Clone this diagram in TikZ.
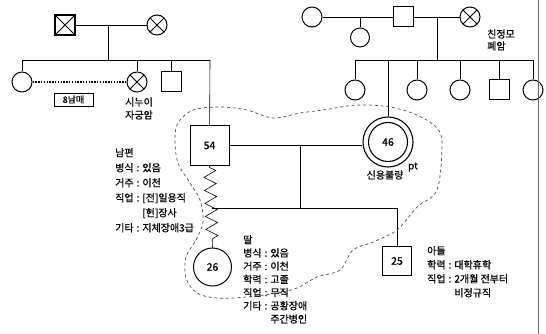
\documentclass[tikz,border=0pt]{standalone}
\usepackage{fontspec}
\setmainfont{Noto Sans CJK KR}[FakeBold=0.8]
\usetikzlibrary{decorations.pathmorphing}
\newcommand{\cln}{\kern3pt:\kern3pt}
\begin{document}
\begin{tikzpicture}[x=1pt,y=-1pt,
  font=\fontsize{10}{13}\selectfont,
  fem/.style={circle,draw,line width=1pt,minimum size=20pt,inner sep=0pt},
  mal/.style={rectangle,draw,line width=1pt,minimum size=20pt,inner sep=0pt},
  dead/.style={path picture={\draw[line width=1pt]
     (path picture bounding box.north west)--(path picture bounding box.south east)
     (path picture bounding box.south west)--(path picture bounding box.north east);}},
  link/.style={line width=0.6pt},
  info/.style={inner sep=0pt,anchor=base west},
  lbl/.style={inner sep=0pt,align=center},
]
\useasboundingbox (0,0) rectangle (546,334);

% ---------- left family ----------
\node[mal,dead,line width=1.4pt] (gf) at (65,25) {};
\node[fem,dead] (gm) at (157,25) {};
\coordinate (lm) at (108,25);
\coordinate (ls) at (108,60);
\coordinate (lsl) at (22,60);
\coordinate (lsr) at (210,60);
\draw[link] (gf) -- (gm);
\draw[link] (lm) -- (ls);
\draw[link] (lsl) -- (lsr);
\node[fem] (s1) at (22,82) {};
\node[fem,dead] (s2) at (137,82) {};
\node[mal] (s3) at (171,82) {};
\draw[link] (lsl) -- (s1);
\draw[link] (s2 |- ls) -- (s2);
\draw[link] (s3 |- ls) -- (s3);
\draw[line width=1.5pt,dash pattern=on 1.5pt off 1.3pt] (s1) -- (s2);
\node[draw,line width=0.6pt,minimum width=39pt,minimum height=13pt,inner sep=0pt,font=\fontsize{9}{10}\selectfont] (nam) at (73.5,99.5) {8남매};
\node[lbl] (s2t) at (139,108.5) {시누이\\자궁암};

% ---------- nuclear family ----------
\node[mal,minimum size=39pt] (h) at (209.5,145.5) {\fontsize{10.5}{12}\selectfont 54};
\draw[link] (lsr) -- (h);
\node[circle,draw,line width=1.1pt,minimum size=50pt,inner sep=0pt] (w) at (388,142) {};
\node[circle,draw,line width=1.1pt,minimum size=39pt,inner sep=0pt] (wi) at (388,142) {\fontsize{10.5}{12}\selectfont 46};
\draw[link] (h.east) -- (h.east -| w.west);
\node[inner sep=0pt] (wt) at (385,175) {신용불량};
\node[inner sep=0pt,font=\fontsize{10}{9}\selectfont] (pt) at (413,167) {pt};

\node[circle,draw,line width=1pt,minimum size=38pt,inner sep=0pt] (d) at (212.5,267) {\fontsize{10.5}{12}\selectfont 26};
\draw[link,decorate,decoration={zigzag,segment length=13pt,amplitude=6pt,pre length=2pt,post length=5pt}] (h.south) -- (d.north);

\node[mal,minimum size=29pt] (son) at (397,261) {\fontsize{10.5}{12}\selectfont 25};
\coordinate (md) at (300,145.5);
\coordinate (mb) at (300,208);
\coordinate (zl) at (211.5,208);
\coordinate (zr) at (397,208);
\draw[link] (md) -- (mb);
\draw[link] (zl) -- (zr) -- (son);

% ---------- right family ----------
\node[fem] (rm1) at (312,17) {};
\node[mal] (rf) at (403,17) {};
\node[fem,dead] (rm) at (470,17) {};
\draw[link] (rm1) -- (rf) -- (rm);
\node[fem,minimum size=19pt] (hs) at (360,37.5) {};
\draw[link] (hs |- rf) -- (hs);
\coordinate (rd) at (437,17);
\coordinate (rs) at (437,60);
\coordinate (rsl) at (355,60);
\coordinate (rsr) at (533,60);
\draw[link] (rd) -- (rs);
\draw[link] (rsl) -- (rsr);
\node[fem] (c1) at (355,90) {};
\node[fem] (c3) at (417,90) {};
\node[fem] (c4) at (460,90) {};
\node[mal] (c5) at (499,90) {};
\node[fem] (c6) at (533,90) {};
\draw[link] (rsl) -- (c1);
\draw[link] (c3 |- rs) -- (c3);
\draw[link] (c4 |- rs) -- (c4);
\draw[link] (c5 |- rs) -- (c5);
\draw[link] (rsr) -- (c6);
\draw[link] (w |- rs) -- (w);
\node[inner sep=0pt,align=left,anchor=west,font=\fontsize{10}{12}\selectfont] (rmt) at (487,40) {친정모\\폐암};

% ---------- info texts ----------
\node[info] (ht) at (115,156.5) {\fontsize{10}{15}\selectfont
\begin{tabular}[t]{@{}l@{}l@{}l@{}}
\multicolumn{3}{@{}l}{남편}\\
병식 & \cln & 있음\\
거주 & \cln & 이천\\
직업 & \cln & [전]일용직\\
 & & [현]장사\\
기타 & \cln & 지체장애3급
\end{tabular}};

\node[info] (dt) at (243,243.5) {\fontsize{10}{13.2}\selectfont
\begin{tabular}[t]{@{}l@{}l@{}l@{}}
\multicolumn{3}{@{}l}{딸}\\
병식 & \cln & 있음\\
거주 & \cln & 이천\\
학력 & \cln & 고졸\\
직업 & \cln & 무직\\
기타 & \cln & 공황장애\\
 & & 주간병인
\end{tabular}};

\node[info] (st) at (427,254.5) {\fontsize{10}{14}\selectfont
\begin{tabular}[t]{@{}l@{}l@{}l@{}}
\multicolumn{3}{@{}l}{아들}\\
학력 & \cln & 대학휴학\\
직업 & \cln & 2개월 전부터\\
 & & 비정규직
\end{tabular}};

% ---------- household boundary ----------
\draw[line width=0.7pt,black!70,dash pattern=on 3pt off 2.8pt]
  plot[smooth cycle,tension=0.55] coordinates {
  (300,113) (323,110) (357,105) (390,107) (417,115) (437,128) (442,145)
  (437,190) (417,207) (397,230) (373,242) (353,250) (340,270) (317,277)
  (297,288) (277,293) (247,297) (217,298) (197,293) (186,278) (186,257)
  (196,240) (203,222) (200,200) (190,183) (178,163) (175,140) (178,123)
  (193,110) (220,107) (247,110) (273,118)};

% ---------- right edge rule ----------
\coordinate (et) at (538,0);
\coordinate (eb) at (538,334);
\draw[line width=0.6pt,black!60] (et) -- (eb);
\end{tikzpicture}
\end{document}
